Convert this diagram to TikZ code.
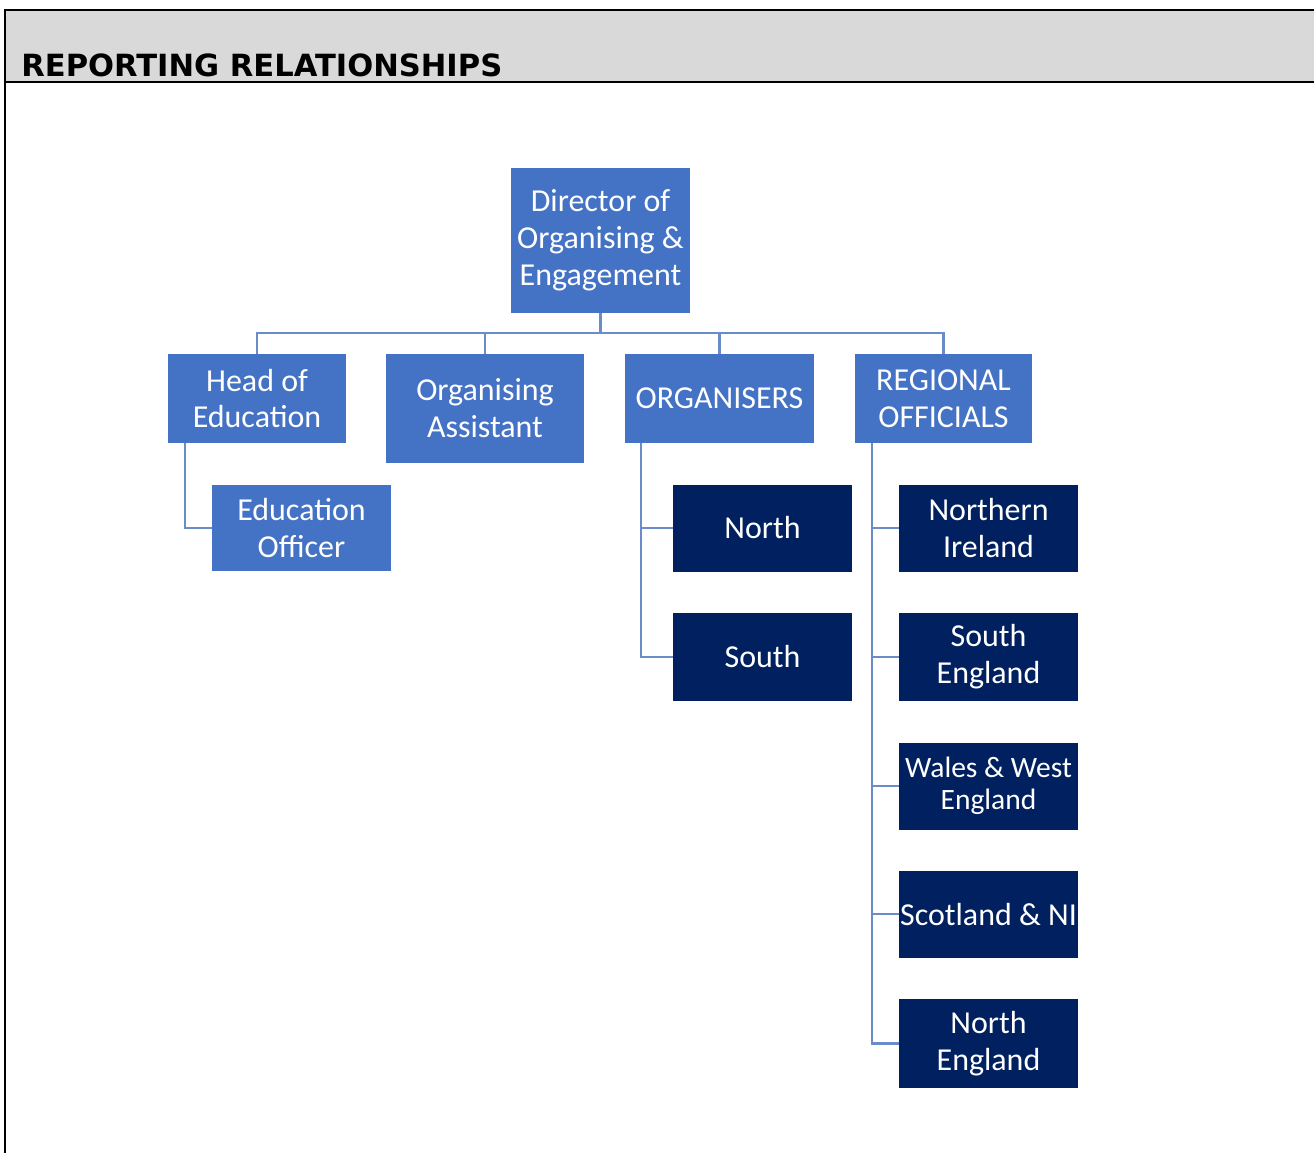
\documentclass[tikz,border=0pt]{standalone}
\usepackage{fontspec}
\setmainfont{Carlito}
\newfontfamily\headfont{DejaVu Sans}
\definecolor{headgray}{HTML}{D9D9D9}
\definecolor{midblue}{HTML}{4472C4}
\definecolor{navy}{HTML}{002060}
\definecolor{linkblue}{HTML}{6A8CCB}
\tikzset{
  boxtext/.style={text=white, align=center, inner sep=0pt, outer sep=0pt,
    font=\fontsize{18.2}{21}\selectfont},
  lightbox/.style={boxtext, fill=midblue, minimum width=179*0.02cm, minimum height=88*0.02cm},
  darkbox/.style={boxtext, fill=navy, minimum width=179*0.02cm, minimum height=87*0.02cm},
  link/.style={draw=linkblue, line width=1.2pt}
}
\begin{document}
\begin{tikzpicture}[x=0.02cm, y=-0.02cm]
  \useasboundingbox (0,0) rectangle (1314,1153);
  % header band
  \fill[headgray] (5,10) rectangle (1314,82);
  \draw[line width=1.4pt] (5,82) -- (1314,82);
  \draw[line width=1.7pt] (1314,10) -- (5,10) -- (5,1153);
  \node[anchor=base west, inner sep=0pt, font=\headfont\bfseries\fontsize{17.4}{20}\selectfont] (title) at (21,76) {REPORTING RELATIONSHIPS};

  % top of the tree
  \node[lightbox, minimum width=179*0.02cm, minimum height=145*0.02cm] (dir) at (600.5,240.5) {Director of\\Organising \&\\Engagement};
  \node[lightbox, minimum width=178*0.02cm, minimum height=89*0.02cm] (head) at (257,398.5) {\raisebox{-6pt}{\parbox{3.5cm}{\centering Head of\\Education}}};
  \node[lightbox, minimum width=198*0.02cm, minimum height=109*0.02cm] (asst) at (485,408.5) {Organising\\Assistant};
  \node[lightbox, minimum width=189*0.02cm, minimum height=89*0.02cm] (orgs) at (719.5,398.5) {ORGANISERS};
  \node[lightbox, minimum width=177*0.02cm, minimum height=89*0.02cm] (regional) at (943.5,398.5) {REGIONAL\\OFFICIALS};

  % second level
  \node[lightbox, minimum width=179*0.02cm, minimum height=86*0.02cm] (eduoff) at (301.5,528) {Education\\Officer};
  \node[darkbox] (north) at (762.5,528) {North};
  \node[darkbox, minimum height=88*0.02cm] (south) at (762.5,657) {South};
  \node[darkbox] (nireland) at (988.5,528) {Northern\\Ireland};
  \node[darkbox, minimum height=88*0.02cm] (southeng) at (988.5,657) {South\\England};
  \node[darkbox, font=\fontsize{16.8}{18.5}\selectfont] (wales) at (988.5,786) {Wales \& West\\England};
  \node[darkbox] (scotland) at (988.5,914) {Scotland \& NI};
  \node[darkbox, minimum height=89*0.02cm] (northeng) at (988.5,1043.5) {North\\England};

  % connectors
  \coordinate (bus) at (600,333);
  \draw[link] (dir.south) -- (dir.south |- bus);
  \draw[link] (head.north) |- (bus) -| (regional.north);
  \draw[link] (asst.north) -- (asst.north |- bus);
  \draw[link] (orgs.north) -- (orgs.north |- bus);

  \path (head.south west) ++(17,0) coordinate (headtrunk);
  \draw[link] (headtrunk) |- (eduoff.west);

  \path (orgs.south west) ++(16,0) coordinate (orgtrunk);
  \foreach \n in {north,south}
    \draw[link] (orgtrunk) |- (\n.west);

  \path (regional.south west) ++(17,0) coordinate (regtrunk);
  \foreach \n in {nireland,southeng,wales,scotland,northeng}
    \draw[link] (regtrunk) |- (\n.west);
\end{tikzpicture}
\end{document}
